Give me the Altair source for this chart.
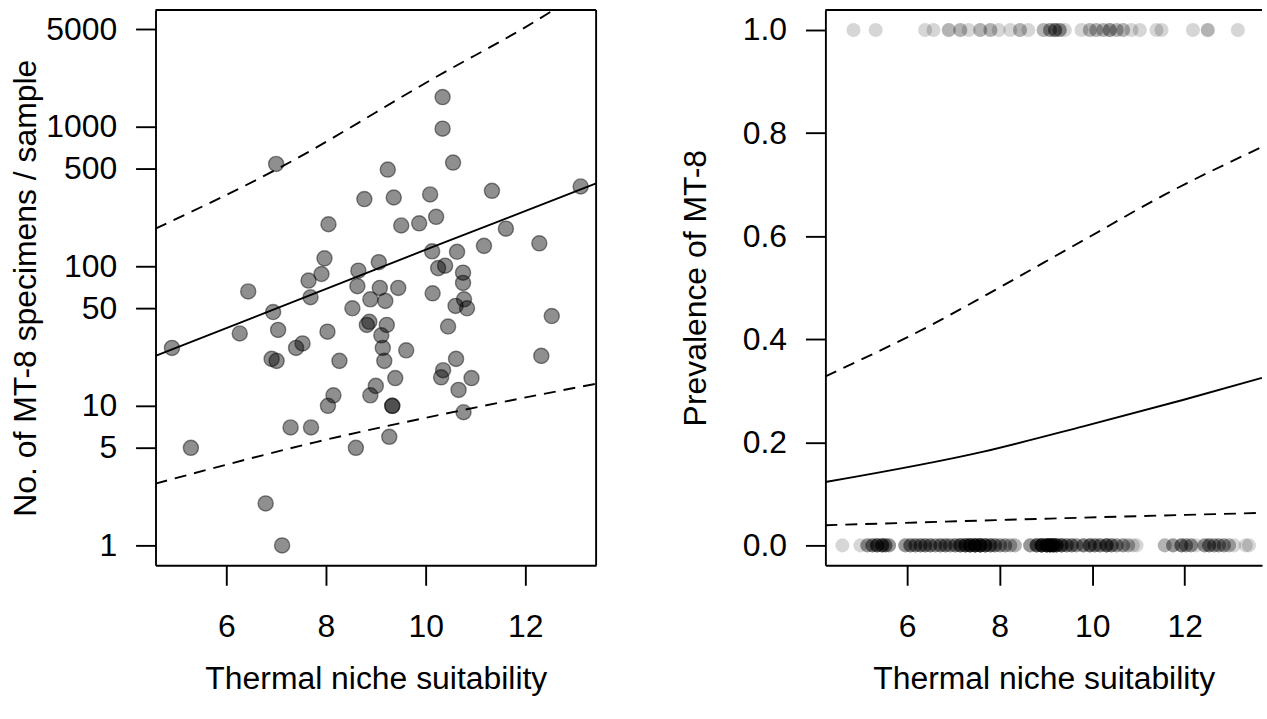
import altair as alt
import pandas as pd

FONT = "Liberation Sans"
FS = 32

# ---------------- Left panel: counts (log scale) ----------------
cnt_x = [10.34, 10.34, 10.55, 7.00, 9.24, 8.77, 9.36, 10.09, 11.33, 13.11,
         8.05, 9.51, 9.87, 10.21, 11.61, 12.28, 11.17, 10.63, 10.13, 7.97,
         9.06, 10.39, 10.25, 10.75, 10.75, 7.91, 7.65, 6.44, 8.65, 8.63,
         9.08, 9.45, 10.14, 7.69, 8.89, 9.19, 10.77, 10.60, 10.83, 8.53,
         6.94, 12.53, 8.87, 8.82, 9.22, 10.45, 6.27, 7.04, 8.03, 9.11,
         4.91, 7.53, 7.40, 9.14, 9.61, 6.91, 7.01, 8.27, 9.17, 10.61,
         12.32, 10.35, 10.31, 10.92, 9.39, 10.66, 9.00, 8.89, 8.15, 8.04,
         9.33, 9.33, 10.76, 7.29, 7.70, 9.27, 5.29, 8.60, 6.79, 7.12]
cnt_y = [1630, 968, 553, 541, 493, 303, 311, 327, 347, 373,
         200, 196, 203, 226, 186, 146, 140, 127, 128, 114,
         107, 101, 97, 90, 76, 88, 79, 66, 93, 72,
         70, 70, 64, 60, 58, 56.5, 58, 52, 50, 50,
         47, 44, 40, 38, 38, 37, 33, 35, 34, 32,
         26, 28, 26, 26, 25, 21.7, 21, 21, 21, 21.7,
         22.8, 18, 16, 15.8, 15.8, 13, 13.9, 11.9, 11.9, 10,
         10, 10, 9, 7, 7, 6, 5, 5, 2, 1]

fitL_x = [4.58, 10.13, 13.42]
fitL_y = [22.8, 137, 392]
uprL_x = [4.58, 7.03, 10.13, 12.53, 13.42]
uprL_y = [186, 499, 2190, 6740, 11000]
lwrL_x = [4.58, 7.80, 10.77, 13.42]
lwrL_y = [2.77, 5.5, 9.36, 14.4]

y_ticks_left = [1, 5, 10, 50, 100, 500, 1000, 5000]
x_ticks = [6, 8, 10, 12]

# ---------------- Right panel: prevalence ----------------
one_x = [4.84, 5.32, 6.39, 6.57, 6.90, 7.15, 7.33, 7.58, 7.80, 7.98, 8.23, 8.44,
         8.62, 8.95, 9.09, 9.20, 9.30, 9.41, 9.77, 9.95, 10.09, 10.24, 10.38,
         10.53, 10.67, 10.85, 11.03, 11.39, 11.50, 12.18, 12.50, 13.15]
one_n = [1, 1, 1, 1, 2, 2, 1, 2, 2, 1, 1, 2,
         1, 2, 3, 4, 3, 1, 1, 2, 2, 2, 3,
         2, 2, 1, 1, 1, 1, 1, 2, 1]
zero_x = [4.60, 4.99, 5.14, 5.25, 5.35, 5.46, 5.53, 5.61,
          5.96, 6.07, 6.18, 6.29, 6.39, 6.50, 6.61, 6.72, 6.83, 6.93, 7.04, 7.15,
          7.26, 7.36, 7.47, 7.58, 7.69, 7.80, 7.90, 8.01, 8.12, 8.23, 8.33,
          8.66, 8.80, 8.91, 9.02, 9.09, 9.16, 9.23, 9.34, 9.45, 9.56, 9.66, 9.81,
          9.95, 10.06, 10.17, 10.31, 10.42, 10.53, 10.67, 10.78, 10.88, 10.96,
          11.57, 11.75, 11.93, 12.03, 12.14, 12.25, 12.43, 12.53, 12.64, 12.74,
          12.85, 12.96, 13.07, 13.32, 13.39]
zero_n = [1, 1, 3, 4, 6, 6, 4, 3,
          3, 4, 4, 4, 4, 4, 3, 4, 4, 3, 4, 6,
          7, 9, 10, 10, 7, 5, 4, 3, 3, 2, 2,
          3, 6, 10, 10, 10, 9, 7, 6, 4, 4, 3, 4,
          5, 4, 4, 6, 4, 3, 3, 2, 1, 1,
          2, 3, 4, 3, 3, 1, 3, 4, 3, 3,
          3, 2, 1, 1, 1]

fitR_x = [4.233, 7.65, 9.81, 11.96, 13.67]
fitR_y = [0.123, 0.182, 0.231, 0.282, 0.325]
uprR_x = [4.233, 6.75, 7.51, 9.81, 11.60, 13.67]
uprR_y = [0.328, 0.4385, 0.476, 0.592, 0.682, 0.773]
lwrR_x = [4.233, 9.09, 13.67]
lwrR_y = [0.039, 0.052, 0.063]

y_ticks_right = [0.0, 0.2, 0.4, 0.6, 0.8, 1.0]

# ---------------- geometry ----------------
WL, H = 442, 557
WR = 438
LINE_W = 1.9
DASH = [12, 8]


def x_axis():
    return alt.Axis(values=x_ticks, title="Thermal niche suitability", grid=False,
                    domain=True, domainColor="black", domainWidth=LINE_W,
                    ticks=True, tickSize=20, tickWidth=LINE_W, tickColor="black",
                    labelFont=FONT, labelFontSize=FS, labelColor="black",
                    labelPadding=26, labelFlush=False,
                    titleFont=FONT, titleFontSize=FS, titleFontWeight="normal",
                    titleColor="black", titleBaseline="alphabetic", titleY=124)


def y_axis(values, title, fmt):
    return alt.Axis(values=values, title=title, grid=False, format=fmt,
                    domain=True, domainColor="black", domainWidth=LINE_W,
                    ticks=True, tickSize=20, tickWidth=LINE_W, tickColor="black",
                    labelFont=FONT, labelFontSize=FS, labelColor="black",
                    labelPadding=19, labelFlush=False, labelOverlap=False,
                    titleFont=FONT, titleFontSize=FS, titleFontWeight="normal",
                    titleColor="black", titleBaseline="middle",
                    titleX=-130, titleY=H / 2, titleAlign="center")


# ---- left ----
xl = alt.Scale(domain=[4.58, 13.42], nice=False, zero=False)
yl = alt.Scale(type="log", domain=[0.72, 6850], nice=False)

left_pts = pd.DataFrame({"x": cnt_x, "y": cnt_y})
fitL = pd.DataFrame({"x": fitL_x, "y": fitL_y})
uprL = pd.DataFrame({"x": uprL_x, "y": uprL_y})
lwrL = pd.DataFrame({"x": lwrL_x, "y": lwrL_y})

pts_l = alt.Chart(left_pts).mark_circle(
    size=230, fill="black", fillOpacity=0.44, stroke="black",
    strokeOpacity=0.45, strokeWidth=1.4, opacity=1
).encode(
    x=alt.X("x:Q", scale=xl, axis=x_axis()),
    y=alt.Y("y:Q", scale=yl, axis=y_axis(y_ticks_left, "No. of MT-8 specimens / sample", "d")),
)
fit_l = alt.Chart(fitL).mark_line(color="black", strokeWidth=LINE_W, clip=True).encode(
    x=alt.X("x:Q", scale=xl), y=alt.Y("y:Q", scale=yl))
upr_l = alt.Chart(uprL).mark_line(color="black", strokeWidth=LINE_W, strokeDash=DASH,
                                  clip=True, interpolate="monotone").encode(
    x=alt.X("x:Q", scale=xl), y=alt.Y("y:Q", scale=yl))
lwr_l = alt.Chart(lwrL).mark_line(color="black", strokeWidth=LINE_W, strokeDash=DASH,
                                  clip=True, interpolate="monotone").encode(
    x=alt.X("x:Q", scale=xl), y=alt.Y("y:Q", scale=yl))

one_row = pd.DataFrame({"a": [0]})
top_l = alt.Chart(one_row).mark_rule(color="black", strokeWidth=LINE_W).encode(
    x=alt.value(0), x2=alt.value(WL), y=alt.value(0))
right_l = alt.Chart(one_row).mark_rule(color="black", strokeWidth=LINE_W).encode(
    x=alt.value(WL), y=alt.value(0), y2=alt.value(H))
pin = alt.Chart(one_row).mark_rule(opacity=0, strokeWidth=1).encode(
    x=alt.value(-155.5), x2=alt.value(-155.5), y=alt.value(-8.5), y2=alt.value(-8.5))

left = alt.layer(pts_l, fit_l, upr_l, lwr_l, top_l, right_l, pin).properties(width=WL, height=H)

# ---- right ----
xr = alt.Scale(domain=[4.233, 4.233 + WR / 46.4], nice=False, zero=False)
yr = alt.Scale(domain=[-0.0387, 1.0387], nice=False, zero=False)

rows = []
for xv, n in zip(one_x, one_n):
    rows += [{"x": xv, "y": 1.0}] * n
for xv, n in zip(zero_x, zero_n):
    rows += [{"x": xv, "y": 0.0}] * n
right_pts = pd.DataFrame(rows)
fitR = pd.DataFrame({"x": fitR_x, "y": fitR_y})
uprR = pd.DataFrame({"x": uprR_x, "y": uprR_y})
lwrR = pd.DataFrame({"x": lwrR_x, "y": lwrR_y})

pts_r = alt.Chart(right_pts).mark_circle(size=200, color="black", opacity=0.16).encode(
    x=alt.X("x:Q", scale=xr, axis=x_axis()),
    y=alt.Y("y:Q", scale=yr, axis=y_axis(y_ticks_right, "Prevalence of MT-8", ".1f")),
)
fit_r = alt.Chart(fitR).mark_line(color="black", strokeWidth=LINE_W, interpolate="monotone").encode(
    x=alt.X("x:Q", scale=xr), y=alt.Y("y:Q", scale=yr))
upr_r = alt.Chart(uprR).mark_line(color="black", strokeWidth=LINE_W, strokeDash=DASH,
                                  interpolate="monotone").encode(
    x=alt.X("x:Q", scale=xr), y=alt.Y("y:Q", scale=yr))
lwr_r = alt.Chart(lwrR).mark_line(color="black", strokeWidth=LINE_W, strokeDash=DASH,
                                  interpolate="monotone").encode(
    x=alt.X("x:Q", scale=xr), y=alt.Y("y:Q", scale=yr))
top_r = alt.Chart(one_row).mark_rule(color="black", strokeWidth=LINE_W).encode(
    x=alt.value(0), x2=alt.value(WR), y=alt.value(0))

right = alt.layer(pts_r, fit_r, upr_r, lwr_r, top_r).properties(width=WR, height=H)

chart = alt.hconcat(left, right, spacing=230, bounds="flush").resolve_scale(
    x="independent", y="independent"
).properties(
    padding={"left": 0, "top": 0, "right": 0, "bottom": 0},
    background="white",
).configure_view(stroke="transparent")

chart.save("out.html", embed_options={"renderer": "svg", "actions": False})
